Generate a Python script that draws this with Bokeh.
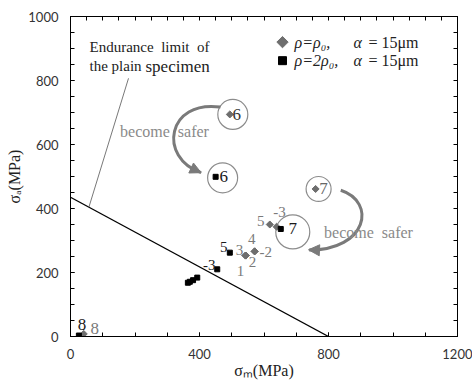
import numpy as np
from bokeh.plotting import figure
from bokeh.models import (Range1d, FixedTicker, LinearAxis, Arrow, NormalHead, ColumnDataSource)
from bokeh.core.properties import value
from bokeh.embed import file_html
from bokeh.resources import INLINE

# ---------------- data (MPa) ----------------
diamond_labels = ["1", "2", "3", "4", "-2", "5", "-3", "6", "7", "8"]
diamond_sigma_m = [543, 543, 543, 571, 571, 618, 639, 494, 760, 41]
diamond_sigma_a = [253, 253, 253, 266, 266, 350, 343, 694, 461, 8]

square_labels = ["", "", "", "", "5", "-3", "6", "7", "8"]
square_sigma_m = [364, 370, 380, 393, 494, 455, 450, 652, 26]
square_sigma_a = [168, 171, 176, 184, 262, 210, 499, 336, 3]

endurance_limit = 435     # sigma_a at sigma_m = 0
tensile_strength = 800    # sigma_m at sigma_a = 0

x_ticks = [0, 400, 800, 1200]
y_ticks = [0, 200, 400, 600, 800, 1000]
legend_rho = ["\u03c1=\u03c1\u2080,", "\u03c1=2\u03c1\u2080,"]
legend_alpha = ["\u03b1", "\u03b1"]
legend_size = ["= 15\u03bcm", "= 15\u03bcm"]

# ---------------- style ----------------
SERIF = "'Liberation Serif'"
GRAY = "#7a7a7a"
LGRAY = "#8a8a8a"
X0, Y0 = 70, 337          # frame origin on the page (px)
PX_X = 387 / 1200.0
PX_Y = 321 / 1000.0


def sx(px):  # page px -> data x (for annotation placement)
    return (px - X0) / PX_X


def sy(py):
    return (Y0 - py) / PX_Y


# label offsets in screen px (dx right, dy down)
d_off = {"1": (-5, 15), "2": (7, 6), "3": (-6, -6), "4": (-3, -12), "-2": (11, 1),
         "5": (-9, -4), "-3": (3, -15), "6": (7, 0), "7": (8, 0), "8": (11, -5)}
s_off = {"": (0, 0), "5": (-6, -6), "-3": (-8, -4), "6": (8, 0), "7": (12, 0), "8": (3, -11)}
d_col = {"6": "#333333", "7": "#666666"}
s_col = {}
big = {"6", "7", "8"}

p = figure(width=472, height=381, x_range=Range1d(0, 1200), y_range=Range1d(0, 1000),
           output_backend="svg", toolbar_location=None,
           min_border_left=70, min_border_right=15, min_border_top=16, min_border_bottom=44)
p.grid.visible = False
p.outline_line_color = "black"
p.outline_line_width = 1
p.background_fill_color = "white"
p.border_fill_color = "white"

tick_font = "Lato"
for ax, ticks, minor, lab in ((p.xaxis[0], x_ticks, list(range(0, 1201, 100)), "\u03c3\u2098(MPa)"),
                              (p.yaxis[0], y_ticks, list(range(0, 1001, 50)), "\u03c3\u2090(MPa)")):
    ax.ticker = FixedTicker(ticks=ticks, minor_ticks=minor)
    ax.major_tick_in = 4
    ax.major_tick_out = 0
    ax.minor_tick_in = 4
    ax.minor_tick_out = 0
    ax.axis_line_color = "black"
    ax.major_label_text_font = tick_font
    ax.major_label_text_font_size = "13px"
    ax.major_label_text_color = "#333333"
    ax.major_label_standoff = 12
    ax.axis_label = lab
    ax.axis_label_text_font = SERIF
    ax.axis_label_text_font_size = "16px"
    ax.axis_label_text_font_style = "normal"
    ax.axis_label_text_color = "#222222"
    ax.axis_label_standoff = 0
p.yaxis[0].axis_label_standoff = 2

# ticks on top and right
top = LinearAxis(ticker=FixedTicker(ticks=[], minor_ticks=list(range(0, 1201, 50))),
                 major_label_text_font_size="0px", minor_tick_in=4, minor_tick_out=0,
                 major_tick_in=0, major_tick_out=0)
right = LinearAxis(ticker=FixedTicker(ticks=[], minor_ticks=list(range(0, 1001, 50))),
                   major_label_text_font_size="0px", minor_tick_in=4, minor_tick_out=0,
                   major_tick_in=0, major_tick_out=0)
p.add_layout(top, "above")
p.add_layout(right, "right")

# endurance limit line (Goodman)
p.line([0, tensile_strength], [endurance_limit, 0], line_color="black", line_width=1.3)

# pointer to the line and its annotation
x_ptr = 57
y_ptr = endurance_limit * (1 - x_ptr / tensile_strength)
p.segment(x0=[x_ptr], y0=[y_ptr], x1=[sx(128)], y1=[sy(78)], line_color="#555555", line_width=0.8)
p.text(x=[sx(89)], y=[sy(47)], text=["Endurance\u00a0\u00a0limit\u00a0\u00a0of"],
       text_font=value(SERIF), text_font_size="15px", text_color="#222222",
       text_baseline="middle", text_align="left")
p.text(x=[sx(89)], y=[sy(66)], text=["the plain"],
       text_font=value(SERIF), text_font_size="15px", text_color="#222222",
       text_baseline="middle", text_align="left")
p.text(x=[sx(145)], y=[sy(66)], text=["specimen"],
       text_font=value(SERIF), text_font_size="17px", text_color="#222222",
       text_baseline="middle", text_align="left")

# circles around 6/7
i6d = diamond_labels.index("6"); i7d = diamond_labels.index("7")
i6s = square_labels.index("6"); i7s = square_labels.index("7")
cx, cy, cs = [], [], []
for (xs, ys, i, dx, dy, d) in ((diamond_sigma_m, diamond_sigma_a, i6d, 3, 0, 30),
                              (diamond_sigma_m, diamond_sigma_a, i7d, 3, 0, 25),
                              (square_sigma_m, square_sigma_a, i6s, 7, 1, 30),
                              (square_sigma_m, square_sigma_a, i7s, 12, 3, 34)):
    cx.append(xs[i] + dx / PX_X)
    cy.append(ys[i] - dy / PX_Y)
    cs.append(d)
p.scatter(x=cx, y=cy, size=cs, marker="circle", fill_color=None,
          line_color="#8c8c8c", line_width=1.2)

# data points
dsrc = ColumnDataSource(dict(x=diamond_sigma_m, y=diamond_sigma_a, t=diamond_labels,
                             dx=[d_off[l][0] for l in diamond_labels],
                             dy=[d_off[l][1] for l in diamond_labels],
                             c=[d_col.get(l, GRAY) for l in diamond_labels],
                             fs=["17px" if l in big else "15px" for l in diamond_labels]))
ssrc = ColumnDataSource(dict(x=square_sigma_m, y=square_sigma_a, t=square_labels,
                             dx=[s_off[l][0] for l in square_labels],
                             dy=[s_off[l][1] for l in square_labels],
                             c=[s_col.get(l, "#1a1a1a") for l in square_labels],
                             fs=["17px" if l in big else "15px" for l in square_labels]))
p.scatter("x", "y", source=dsrc, marker="square", angle=np.pi / 4, size=5,
          fill_color="#6e6e6e", line_color="#6e6e6e")
p.scatter("x", "y", source=ssrc, marker="square", size=5, fill_color="black",
          line_color="black")
p.text("x", "y", text="t", source=dsrc, x_offset="dx", y_offset="dy", text_color="c",
       text_font=value(SERIF), text_font_size="fs", text_align="center", text_baseline="middle")
p.text("x", "y", text="t", source=ssrc, x_offset="dx", y_offset="dy", text_color="c",
       text_font=value(SERIF), text_font_size="fs", text_align="center", text_baseline="middle")

# curved "become safer" arrows
p.bezier(x0=[465, 838], y0=[717, 457], x1=[405, 740], y1=[512, 270],
         cx0=[300, 950], cy0=[740, 420], cx1=[270, 920], cy1=[560, 270],
         line_color=GRAY, line_width=3)
p.add_layout(Arrow(end=NormalHead(size=11, fill_color=GRAY, line_color=GRAY),
                   x_start=388, y_start=520, x_end=405, y_end=512, line_alpha=0))
p.add_layout(Arrow(end=NormalHead(size=11, fill_color=GRAY, line_color=GRAY),
                   x_start=760, y_start=270, x_end=738, y_end=271, line_alpha=0))
p.text(x=[sx(164), sx(368)], y=[sy(131), sy(233)], text=["become\u00a0\u00a0safer"] * 2,
       text_font=value(SERIF), text_font_size="16px", text_color=LGRAY,
       text_align="center", text_baseline="middle")

# legend (drawn by hand, mixed italic/upright text)
ly = [sy(41.7), sy(60.3)]
p.scatter(x=[sx(282)], y=[ly[0]], marker="square", angle=np.pi / 4, size=8,
          fill_color="#6e6e6e", line_color="#6e6e6e")
p.scatter(x=[sx(282)], y=[ly[1]], marker="square", size=8,
          fill_color="black", line_color="black")
p.text(x=[sx(294)] * 2, y=ly, text=legend_rho, text_font=value(SERIF),
       text_font_size="16px", text_font_style="italic", text_color="#222222",
       text_baseline="middle")
p.text(x=[sx(353)] * 2, y=ly, text=legend_alpha, text_font=value(SERIF),
       text_font_size="16px", text_font_style="italic", text_color="#222222",
       text_baseline="middle")
p.text(x=[sx(368)] * 2, y=ly, text=legend_size, text_font=value(SERIF),
       text_font_size="16px", text_color="#222222", text_baseline="middle")

open("out.html", "w").write(file_html(p, INLINE))
